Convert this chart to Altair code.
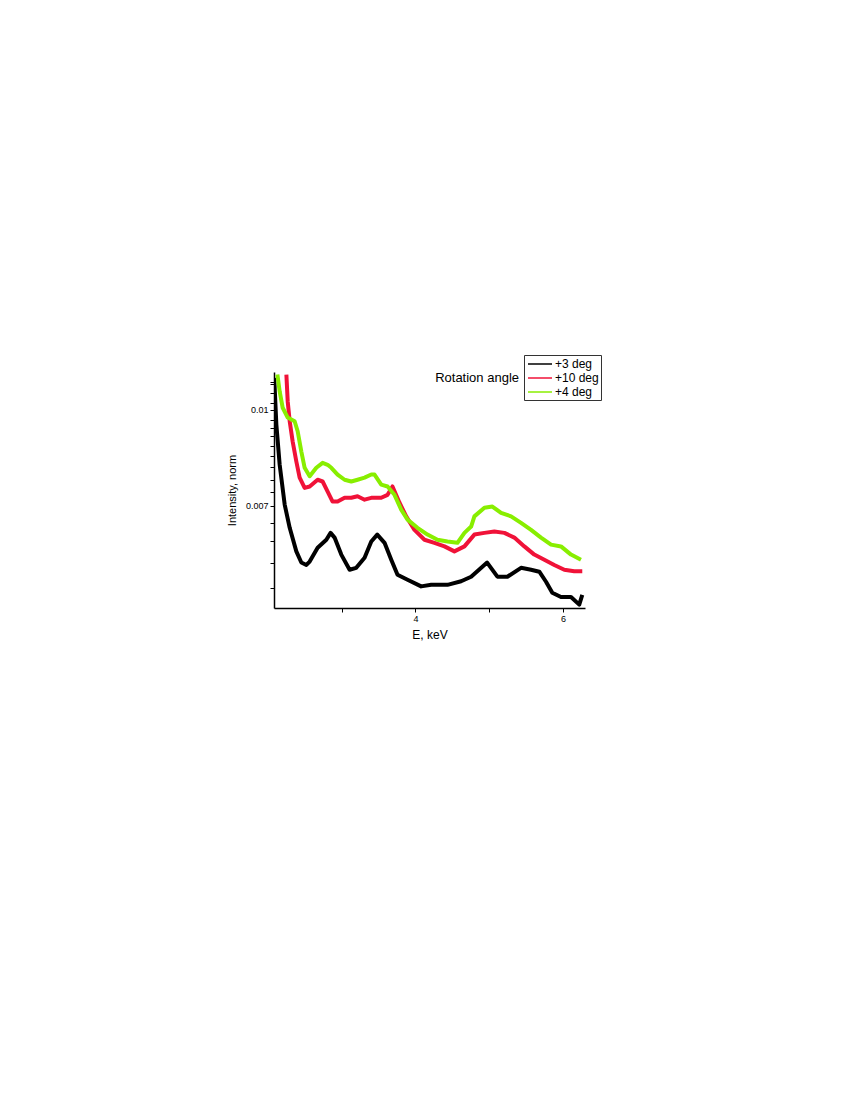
import altair as alt
import pandas as pd

# Energy (keV) and normalized intensity
e_black = [2.083, 2.112, 2.157, 2.225, 2.293, 2.383, 2.451, 2.519, 2.564, 2.672, 2.790, 2.848,
           2.902, 2.993, 3.106, 3.196, 3.309, 3.400, 3.481, 3.580, 3.671, 3.756, 3.892, 4.077,
           4.213, 4.434, 4.619, 4.755, 4.972, 5.111, 5.247, 5.432, 5.568, 5.680, 5.771, 5.856,
           5.974, 6.110, 6.222, 6.263]
i_black = [0.01125, 0.00946, 0.00815, 0.00703, 0.00645, 0.00591, 0.00567, 0.00562, 0.00569, 0.00599,
           0.00617, 0.00633, 0.00622, 0.00584, 0.00552, 0.00556, 0.00577, 0.00613, 0.00629, 0.00610,
           0.00573, 0.00542, 0.00532, 0.00519, 0.00522, 0.00522, 0.00529, 0.00538, 0.00567, 0.00538,
           0.00538, 0.00556, 0.00552, 0.00548, 0.00528, 0.00507, 0.00499, 0.00499, 0.00485, 0.00503]

e_red = [2.248, 2.266, 2.293, 2.333, 2.383, 2.428, 2.496, 2.564, 2.672, 2.740, 2.808, 2.875, 2.943,
         3.038, 3.129, 3.214, 3.309, 3.400, 3.535, 3.621, 3.688, 3.783, 3.874, 3.986, 4.122, 4.257,
         4.393, 4.528, 4.664, 4.799, 4.935, 5.070, 5.206, 5.341, 5.477, 5.612, 5.748, 5.883, 6.019,
         6.154, 6.263]
i_red = [0.01139, 0.01031, 0.00958, 0.00889, 0.00825, 0.00777, 0.00748, 0.00752, 0.00771, 0.00766,
         0.00738, 0.00711, 0.00711, 0.00721, 0.00721, 0.00725, 0.00716, 0.00721, 0.00721, 0.00729,
         0.00752, 0.00708, 0.00673, 0.00640, 0.00617, 0.00610, 0.00602, 0.00591, 0.00602, 0.00629,
         0.00633, 0.00636, 0.00633, 0.00622, 0.00602, 0.00584, 0.00573, 0.00562, 0.00552, 0.00549,
         0.00549]

e_green = [2.126, 2.157, 2.198, 2.266, 2.360, 2.401, 2.451, 2.496, 2.564, 2.654, 2.740, 2.808, 2.858,
           2.943, 3.038, 3.129, 3.214, 3.309, 3.400, 3.444, 3.535, 3.621, 3.715, 3.806, 3.892, 4.027,
           4.163, 4.298, 4.434, 4.569, 4.664, 4.755, 4.799, 4.935, 5.043, 5.161, 5.297, 5.432, 5.568,
           5.703, 5.839, 5.974, 6.110, 6.245]
i_green = [0.01139, 0.01070, 0.01007, 0.00971, 0.00958, 0.00923, 0.00856, 0.00806, 0.00781, 0.00806,
           0.00821, 0.00815, 0.00806, 0.00786, 0.00771, 0.00766, 0.00771, 0.00777, 0.00786, 0.00786,
           0.00757, 0.00752, 0.00729, 0.00690, 0.00665, 0.00645, 0.00629, 0.00617, 0.00613, 0.00610,
           0.00633, 0.00648, 0.00673, 0.00695, 0.00698, 0.00682, 0.00673, 0.00657, 0.00640, 0.00622,
           0.00606, 0.00602, 0.00584, 0.00573]

series_names = ["+3 deg", "+10 deg", "+4 deg"]
series_colors = ["#000000", "#f01238", "#88ee00"]

y_ticks = [0.0111, 0.0110, 0.01065, 0.01026, 0.01, 0.00964, 0.00935, 0.00908, 0.00875, 0.00843,
           0.00809, 0.00771, 0.00738, 0.007, 0.00657, 0.00615, 0.00567, 0.00516]
x_ticks = [3, 4, 5, 6]

rows = []
for name, es, vs in zip(series_names, [e_black, e_red, e_green], [i_black, i_red, i_green]):
    for k, (e, v) in enumerate(zip(es, vs)):
        rows.append({"E": e, "I": v, "Angle": name, "order": k})
df = pd.DataFrame(rows)

FONT = "Liberation Sans"

lines = alt.Chart(df).mark_line(strokeWidth=4, clip=True, strokeJoin="round").encode(
    x=alt.X("E:Q",
            scale=alt.Scale(domain=[2.08, 6.3], nice=False, zero=False),
            axis=alt.Axis(title="E, keV", values=x_ticks, grid=False,
                          labelExpr="datum.value == 4 || datum.value == 6 ? datum.label : ''",
                          labelFontSize=9, tickSize=4, tickColor="black", domainColor="black",
                          domainWidth=1.5, labelColor="black", titleFontSize=12,
                          titleFontWeight="normal", titlePadding=6, labelPadding=2)),
    y=alt.Y("I:Q",
            scale=alt.Scale(type="log", domain=[0.00479, 0.0115], nice=False, zero=False),
            axis=alt.Axis(title="Intensity, norm", values=y_ticks, grid=False,
                          labelExpr="(abs(datum.value-0.01)<1e-6) ? '0.01' : ((abs(datum.value-0.007)<1e-6) ? '0.007' : '')",
                          labelFontSize=9, tickSize=4, tickColor="black", domainColor="black",
                          domainWidth=1.5, labelColor="black", titleFontSize=11,
                          titleFontWeight="normal", titlePadding=8, labelPadding=2,
                          labelOverlap=False)),
    color=alt.Color("Angle:N",
                    scale=alt.Scale(domain=series_names, range=series_colors),
                    legend=alt.Legend(title=None, orient="none", legendX=250, legendY=-17,
                                      symbolType="M-2,0L2,0", symbolSize=144,
                                      symbolStrokeWidth=1.5,
                                      labelFontSize=12, labelFont=FONT, rowPadding=1,
                                      strokeColor="#333333", padding=2, labelOffset=8,
                                      symbolOffset=7)),
    order="order:Q",
    detail="Angle:N",
)

title_text = alt.Chart(pd.DataFrame({"t": ["Rotation angle"]})).mark_text(
    align="right", baseline="middle", fontSize=13, font=FONT, color="black"
).encode(text="t:N", x=alt.value(245), y=alt.value(6))

chart = alt.layer(lines, title_text).properties(
    width=311, height=236,
    autosize=alt.AutoSizeParams(type="none"),
    padding={"left": 266, "top": 364, "right": 40, "bottom": 400},
).configure(font=FONT).configure_view(strokeWidth=0, stroke=None)

chart.save("out.html", embed_options={"renderer": "svg", "actions": False})
